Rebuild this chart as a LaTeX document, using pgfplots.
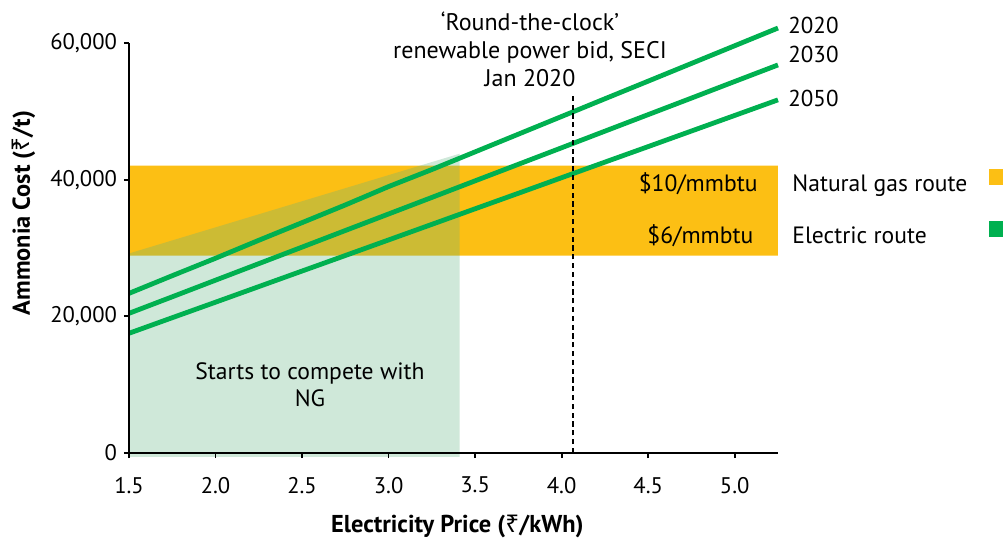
\documentclass[border=0pt]{standalone}
\usepackage{fontspec}
\setmainfont{PT Sans}
\newfontfamily\rs{Noto Sans}
\usepackage{pgfplots}
\pgfplotsset{compat=1.18}
\definecolor{bandorange}{RGB}{252,191,20}
\definecolor{shadegreen}{RGB}{95,178,128}
\definecolor{linegreen}{RGB}{0,176,80}
\pgfplotstableread{
x y2020 y2030 y2050
1.50 23360 20440 17520
1.75 25950 22860 19800
2.00 28500 25290 22070
2.25 31130 27710 24350
2.50 33710 30130 26630
2.75 36300 32560 28900
3.00 38990 34980 31180
3.25 41480 37400 33460
3.50 44070 39830 35740
3.75 46660 42250 38010
4.00 49250 44670 40290
4.25 51840 47100 42570
4.50 54420 49520 44840
4.75 57010 51940 47120
5.00 59600 54370 49400
5.25 62190 56790 51680
}\costs
\begin{document}
\begin{tikzpicture}
\path[use as bounding box] (-64.5pt,-44pt) rectangle (437pt,226.5pt);
\begin{axis}[
  at={(0pt,0pt)}, anchor=south west,
  scale only axis, width=324.5pt, height=205pt,
  xmin=1.5, xmax=5.25, ymin=0, ymax=60000,
  clip=false, axis on top,
  axis x line=bottom, axis y line=left,
  axis line style={-, line width=0.9pt, black},
  xtick={1.5,2,2.5,3,3.5,4,4.5,5},
  ytick={0,20000,40000,60000},
  scaled y ticks=false,
  yticklabels={0,{20,000},{40,000},{60,000}},
  xticklabel style={yshift=-6pt, /pgf/number format/.cd, fixed, fixed zerofill, precision=1},
  /pgf/number format/assume math mode=true,
  tick align=outside, major tick length=2.5pt,
  tick style={black, line width=0.9pt},
  ticklabel style={font=\fontsize{11.3}{13}\selectfont},
  xlabel={\textbf{Electricity Price ({\rs ₹}/kWh)}},
  ylabel={\textbf{Ammonia Cost ({\rs ₹}/t)}},
  label style={font=\fontsize{12.2}{14}\selectfont},
  xlabel style={at={(axis description cs:0.506,-0.18)}, anchor=center},
  ylabel style={at={(axis description cs:-0.162,0.585)}, anchor=center, rotate=0},
  legend plot pos=right,
  legend style={at={(axis description cs:1.0216,0.595)}, anchor=west,
    draw=none, fill=none, inner sep=0pt, row sep=12pt, column sep=11pt,
    nodes={inner sep=0pt, anchor=west, text height=9pt, text depth=3pt},
    font=\fontsize{11.8}{13}\selectfont},
  legend image code/.code={\fill[#1] (0pt,0pt) rectangle (8pt,8pt);},
]
\addplot[fill=bandorange, draw=none, forget plot] coordinates {(1.5,28900) (5.25,28900) (5.25,42050) (1.5,42050) (1.5,28900)};
\addplot[fill=shadegreen, fill opacity=0.3, draw=none, forget plot] coordinates {(1.5,-580) (1.5,29200) (3.41,43800) (3.41,-580) (1.5,-580)};
\addplot[linegreen, line width=2.4pt, forget plot] table[x=x, y=y2020] {\costs};
\addplot[linegreen, line width=2.4pt, forget plot] table[x=x, y=y2030] {\costs};
\addplot[linegreen, line width=2.4pt, forget plot] table[x=x, y=y2050] {\costs};
\addplot[black, line width=1.2pt, dash pattern=on 2.6pt off 1.8pt, forget plot] coordinates {(4.065,0) (4.065,52700)};
\addlegendimage{fill=bandorange, draw=none}
\addlegendentry{Natural gas route}
\addlegendimage{fill=linegreen, draw=none}
\addlegendentry{Electric route}
\node[anchor=west, inner sep=0pt, font=\fontsize{11.5}{13}\selectfont] at (axis cs:5.25,62630) [xshift=5pt] {2020};
\node[anchor=west, inner sep=0pt, font=\fontsize{11.5}{13}\selectfont] at (axis cs:5.25,58390) [xshift=5pt] {2030};
\node[anchor=west, inner sep=0pt, font=\fontsize{11.5}{13}\selectfont] at (axis cs:5.25,51820) [xshift=5pt] {2050};
\node[anchor=east, inner sep=0pt, font=\fontsize{11.8}{13}\selectfont] at (axis cs:5.134,39416) {\$10/mmbtu};
\node[anchor=east, inner sep=0pt, font=\fontsize{11.8}{13}\selectfont] at (axis cs:5.11,31825) {\$6/mmbtu};
\node[align=center, font=\fontsize{12}{14}\selectfont] at (axis cs:3.817,59124) {‘Round-the-clock’\\renewable power bid, SECI\\Jan 2020};
\node[align=center, font=\fontsize{11.8}{13.5}\selectfont] at (axis cs:2.546,9930) {Starts to compete with\\NG};
\end{axis}
\end{tikzpicture}
\end{document}
